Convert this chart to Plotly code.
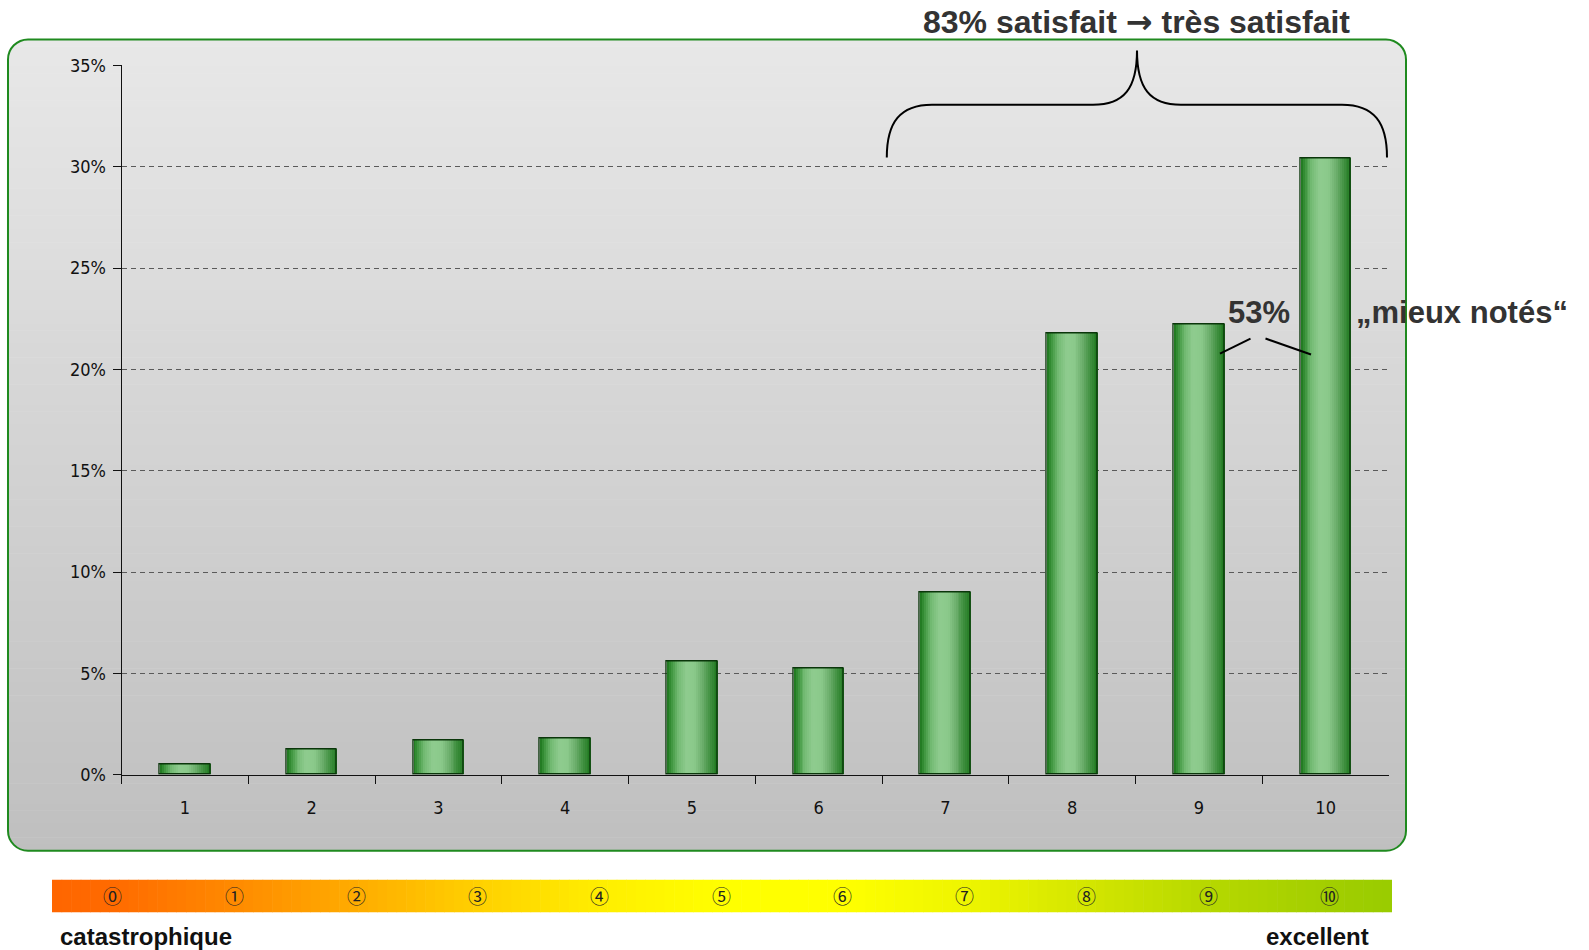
import plotly.graph_objects as go

# ---------------------------------------------------------------- data
notes = ["1", "2", "3", "4", "5", "6", "7", "8", "9", "10"]
parts = [0.005, 0.0125, 0.017, 0.018, 0.056, 0.0525, 0.090, 0.218, 0.222, 0.304]

y_tick_values = [0, 0.05, 0.10, 0.15, 0.20, 0.25, 0.30, 0.35]
y_tick_labels = ["0%", "5%", "10%", "15%", "20%", "25%", "30%", "35%"]

scale_symbols = ["⓪", "①", "②", "③", "④", "⑤", "⑥", "⑦", "⑧", "⑨", "⑩"]
scale_ends = ["catastrophique", "excellent"]

title_parts = ("83% satisfait", "→", "très satisfait")
top_share_text = "53%"
top_share_label = "„mieux notés“"

# ---------------------------------------------------------------- page geometry (pixels)
W, H = 1589, 950
V_SCALE, V_SHIFT = 0.9775, 10.6   # vertical placement on the rendered page


def px(x):
    return x / W


def py(y):
    return 1 - ((y - V_SHIFT) / V_SCALE) / H


def mix(c1, c2, f):
    return tuple(c1[k] + (c2[k] - c1[k]) * f for k in range(3))


def ramp(stops, t):
    """Linear interpolation through a list of (position, rgb) stops."""
    if t <= stops[0][0]:
        return stops[0][1]
    for (t0, c0), (t1, c1) in zip(stops, stops[1:]):
        if t <= t1:
            return mix(c0, c1, (t - t0) / (t1 - t0))
    return stops[-1][1]


def rgb(c):
    return "rgb(%d,%d,%d)" % tuple(round(v) for v in c)


def hexrgb(h):
    h = h.lstrip("#")
    return tuple(int(h[i:i + 2], 16) for i in (0, 2, 4))


PLOT_L, PLOT_R = 121.6, 1389.0
PLOT_T, PLOT_B = 65.0, 774.0

BOX_L, BOX_R, BOX_T, BOX_B, BOX_RAD = 8, 1406, 39, 850, 20

shapes = []

# grey panel: vertical gradient built from thin bands
N_BANDS = 120
top_grey, bottom_grey = hexrgb("#e8e8e8"), hexrgb("#bfbfbf")
band_h = (BOX_B - BOX_T) / N_BANDS
for i in range(N_BANDS):
    y0 = BOX_T + i * band_h
    y1 = min(BOX_B, y0 + band_h + 0.6)
    shapes.append(dict(
        type="rect", xref="paper", yref="paper", layer="below",
        x0=px(BOX_L), x1=px(BOX_R), y0=py(y1), y1=py(y0),
        fillcolor=rgb(mix(top_grey, bottom_grey, (i + 0.5) / N_BANDS)),
        line=dict(width=0)))

# white masks that round the panel corners
K = 0.5523 * BOX_RAD
corners = [
    (BOX_L, BOX_T, 1, 1), (BOX_R, BOX_T, -1, 1),
    (BOX_L, BOX_B, 1, -1), (BOX_R, BOX_B, -1, -1),
]
for cx, cy, sx, sy in corners:
    ox, oy = cx - sx * 1.5, cy - sy * 1.5
    path = (
        f"M {px(ox)},{py(oy)} "
        f"L {px(cx + sx * BOX_RAD)},{py(oy)} "
        f"L {px(cx + sx * BOX_RAD)},{py(cy)} "
        f"C {px(cx + sx * (BOX_RAD - K))},{py(cy)} "
        f"{px(cx)},{py(cy + sy * (BOX_RAD - K))} "
        f"{px(cx)},{py(cy + sy * BOX_RAD)} "
        f"L {px(ox)},{py(cy + sy * BOX_RAD)} Z"
    )
    shapes.append(dict(type="path", xref="paper", yref="paper", layer="below",
                       path=path, fillcolor="white", line=dict(width=0)))

# green rounded frame
r = BOX_RAD
frame = (
    f"M {px(BOX_L + r)},{py(BOX_T)} L {px(BOX_R - r)},{py(BOX_T)} "
    f"C {px(BOX_R - r + K)},{py(BOX_T)} {px(BOX_R)},{py(BOX_T + r - K)} {px(BOX_R)},{py(BOX_T + r)} "
    f"L {px(BOX_R)},{py(BOX_B - r)} "
    f"C {px(BOX_R)},{py(BOX_B - r + K)} {px(BOX_R - r + K)},{py(BOX_B)} {px(BOX_R - r)},{py(BOX_B)} "
    f"L {px(BOX_L + r)},{py(BOX_B)} "
    f"C {px(BOX_L + r - K)},{py(BOX_B)} {px(BOX_L)},{py(BOX_B - r + K)} {px(BOX_L)},{py(BOX_B - r)} "
    f"L {px(BOX_L)},{py(BOX_T + r)} "
    f"C {px(BOX_L)},{py(BOX_T + r - K)} {px(BOX_L + r - K)},{py(BOX_T)} {px(BOX_L + r)},{py(BOX_T)} Z"
)
shapes.append(dict(type="path", xref="paper", yref="paper", layer="below",
                   path=frame, line=dict(color="#1f8a1f", width=2)))

# rating scale strip (orange -> yellow -> green)
STRIP_L, STRIP_R, STRIP_T, STRIP_B = 52, 1392, 879, 911.5
strip_stops = [
    (52, hexrgb("#ff6600")), (112, hexrgb("#ff6a00")), (234, hexrgb("#ff8a00")),
    (356, hexrgb("#ffac00")), (477, hexrgb("#ffd000")), (599, hexrgb("#ffee00")),
    (721, hexrgb("#ffff00")), (843, hexrgb("#ffff00")), (965, hexrgb("#eef500")),
    (1087, hexrgb("#d4e600")), (1208, hexrgb("#b6d800")), (1330, hexrgb("#a2ce00")),
    (1392, hexrgb("#99cc00")),
]
N_STRIP = 140
strip_w = (STRIP_R - STRIP_L) / N_STRIP
for i in range(N_STRIP):
    x0 = STRIP_L + i * strip_w
    x1 = min(STRIP_R, x0 + strip_w + 0.6)
    shapes.append(dict(
        type="rect", xref="paper", yref="paper", layer="below",
        x0=px(x0), x1=px(x1), y0=py(STRIP_B), y1=py(STRIP_T),
        fillcolor=rgb(ramp(strip_stops, x0 + strip_w / 2)),
        line=dict(width=0)))

# curly brace over notes 7-10
brace = (
    f"M {px(886.8)},{py(157)} "
    f"C {px(886.8)},{py(122)} {px(900)},{py(104.3)} {px(932)},{py(104.3)} "
    f"L {px(1093)},{py(104.3)} "
    f"C {px(1124)},{py(104.3)} {px(1137)},{py(88)} {px(1137)},{py(50)} "
    f"C {px(1137)},{py(88)} {px(1150)},{py(104.3)} {px(1181)},{py(104.3)} "
    f"L {px(1342)},{py(104.3)} "
    f"C {px(1374)},{py(104.3)} {px(1387)},{py(122)} {px(1387)},{py(157)}"
)
shapes.append(dict(type="path", xref="paper", yref="paper", layer="above",
                   path=brace, line=dict(color="black", width=2)))

# leader lines for the top-two share
for (x0, y0, x1, y1) in [(1220, 353, 1250.5, 338), (1265.5, 338, 1311, 354)]:
    shapes.append(dict(type="line", xref="paper", yref="paper", layer="above",
                       x0=px(x0), y0=py(y0), x1=px(x1), y1=py(y1),
                       line=dict(color="black", width=2)))

# ---------------------------------------------------------------- bars
fig = go.Figure()

BAR_W = 0.4
N_SLICES = 26
shade = [
    (0.00, hexrgb("#1b751b")), (0.08, hexrgb("#3b943b")), (0.22, hexrgb("#74bb74")),
    (0.38, hexrgb("#8fcc8f")), (0.55, hexrgb("#8ac88a")), (0.70, hexrgb("#6cae6c")),
    (0.86, hexrgb("#3d8e3d")), (1.00, hexrgb("#1f781f")),
]
slice_w = BAR_W / N_SLICES
for i in range(N_SLICES):
    t = (i + 0.5) / N_SLICES
    off = -BAR_W / 2 + i * slice_w
    w = slice_w * 1.3 if i < N_SLICES - 1 else slice_w
    fig.add_trace(go.Bar(
        x=notes, y=parts, width=w, offset=off,
        marker=dict(color=rgb(ramp(shade, t)), line=dict(width=0)),
        hoverinfo="skip", showlegend=False))

fig.add_trace(go.Bar(
    x=notes, y=parts, width=BAR_W, offset=-BAR_W / 2,
    marker=dict(color="rgba(0,0,0,0)", line=dict(color="#0a360a", width=1.3)),
    hovertemplate="Note %{x}: %{y:.1%}<extra></extra>", showlegend=False))

# ---------------------------------------------------------------- annotations
bold = "Liberation Sans, Arial, sans-serif"
arrow_span = f"<span style='font-family:DejaVu Sans'>{title_parts[1]}</span>"
annotations = [
    dict(text=f"<b>{title_parts[0]} {arrow_span} {title_parts[2]}</b>", x=px(1136), y=py(22),
         font=dict(family=bold, size=32, color="#333333")),
    dict(text=f"<b>{top_share_text}</b>", x=px(1259), y=py(312),
         font=dict(family=bold, size=31, color="#333333")),
    dict(text=f"<b>{top_share_label}</b>", x=px(1462), y=py(312),
         font=dict(family=bold, size=31, color="#333333")),
    dict(text=f"<b>{scale_ends[0]}</b>", x=px(58), y=py(936), xanchor="left",
         font=dict(family=bold, size=24, color="#111111")),
    dict(text=f"<b>{scale_ends[1]}</b>", x=px(1371), y=py(936), xanchor="right",
         font=dict(family=bold, size=24, color="#111111")),
]
for k, sym in enumerate(scale_symbols):
    annotations.append(dict(
        text=sym, x=px(112.7 + k * 121.7), y=py(895),
        font=dict(family="Noto Sans CJK JP, DejaVu Sans, sans-serif", size=19, color="#222222")))
for a in annotations:
    a.setdefault("xref", "paper")
    a.setdefault("yref", "paper")
    a.setdefault("xanchor", "center")
    a.setdefault("yanchor", "middle")
    a.setdefault("showarrow", False)

tick_font = dict(family="DejaVu Sans Condensed, DejaVu Sans, sans-serif", size=18, color="#111111")

fig.update_layout(
    width=W, height=H, autosize=False,
    margin=dict(l=0, r=0, t=0, b=0, pad=0),
    paper_bgcolor="white", plot_bgcolor="rgba(0,0,0,0)",
    barmode="overlay", bargap=0,
    showlegend=False,
    shapes=shapes, annotations=annotations,
    xaxis=dict(
        type="category", domain=[px(PLOT_L), px(PLOT_R)], range=[-0.5, 9.5],
        tickson="boundaries", ticks="outside", ticklen=8, tickcolor="#111111",
        showline=True, linecolor="#111111", linewidth=1,
        showgrid=False, zeroline=False,
        tickfont=tick_font, ticklabelstandoff=17, fixedrange=True,
    ),
    yaxis=dict(
        domain=[py(PLOT_B), py(PLOT_T)], range=[0, 0.35],
        tickvals=y_tick_values, ticktext=y_tick_labels,
        ticks="outside", ticklen=8, tickcolor="#111111",
        showline=True, linecolor="#111111", linewidth=1,
        showgrid=True, gridcolor="#5a5a5a", gridwidth=1, griddash="5px,4px",
        zeroline=False, tickfont=tick_font, ticklabelstandoff=3, fixedrange=True,
    ),
)

fig.write_html("out.html")
